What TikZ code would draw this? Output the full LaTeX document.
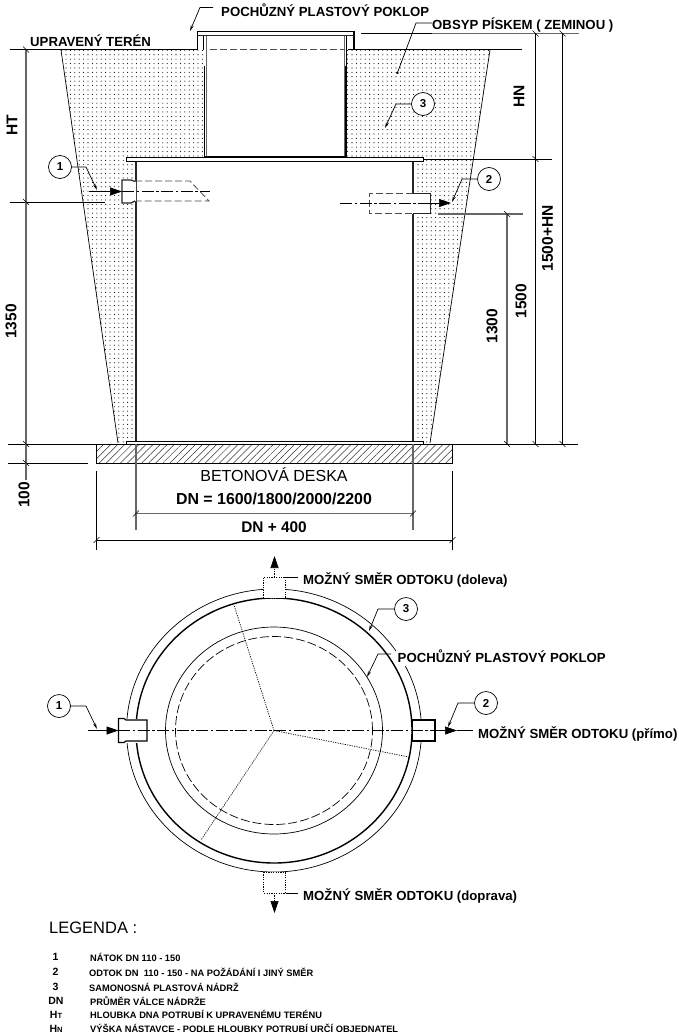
\documentclass[tikz,border=0pt]{standalone}
\usepackage{fontspec}
\setmainfont{Liberation Sans}
\usetikzlibrary{arrows.meta,patterns.meta}
\newcommand{\fsz}[1]{\fontsize{#1}{#1}\selectfont}
\tikzset{
  thin line/.style={line width=0.7pt,black},
  dimline/.style={line width=0.8pt,black},
  greydim/.style={line width=1.2pt,black!60},
  thickline/.style={line width=1.8pt,black},
  midline/.style={line width=1.2pt,black!85},
  hidden/.style={line width=0.8pt,black!70,dash pattern=on 7pt off 3pt},
  axisline/.style={line width=0.5pt,black,dash pattern=on 12pt off 2.5pt on 2.5pt off 2.5pt},
  spoke/.style={line width=0.7pt,black,dash pattern=on 1.2pt off 1.2pt},
  lab/.style={font=\bfseries\fsz{13.2},anchor=west,inner sep=0pt},
  dimtext/.style={font=\bfseries\fsz{15.5},rotate=90,inner sep=0pt},
  bubble/.style={circle,draw,line width=0.7pt,minimum size=23pt,inner sep=0pt,font=\bfseries\fsz{11.5},fill=white},
  leader/.style={line width=0.7pt,black,-{Stealth[length=6pt,width=3pt]}},
  flow/.style={line width=0.7pt,black,-{Triangle[length=12pt,width=8pt]}},
  legnum/.style={font=\bfseries\fsz{10.5},inner sep=0pt},
  legtext/.style={font=\bfseries\fsz{9.3},anchor=west,inner sep=0pt},
}
\newcommand{\tkb}[1]{\draw[dimline,line width=0.6pt] (#1) ++(-3,-3) -- ++(6,6);}
\newcommand{\tkf}[1]{\draw[dimline,line width=0.6pt] (#1) ++(-3,3) -- ++(6,-6);}
\begin{document}
\begin{tikzpicture}[x=1pt,y=-1pt]
\useasboundingbox (0,0) rectangle (679,1036);
\fill[white] (0,0) rectangle (679,1036);

%% ---------- section: soil ----------
\path[pattern={Dots[distance=4.4pt,radius=0.55pt]},pattern color=black]
  (61,50) -- (490,50) -- (430,443) -- (118,443) -- cycle;
\draw[thin line] (61,50) -- (118,443);
\draw[thin line] (490,50) -- (430,443);
% tank interior
\fill[white] (204,36) rectangle (347,157);
\fill[white] (136,161) rectangle (413,441);
\fill[white] (197,31) rectangle (354,49);
% base slab
\path[pattern={Lines[angle=45,distance=5pt,line width=0.5pt]},pattern color=black!80]
  (96.5,444) rectangle (452.5,463);
\draw[line width=0.8pt] (96.5,444) rectangle (452.5,463);
% tank walls
\draw[midline] (136,161) -- (136,441);
\draw[midline] (413,161) -- (413,441);
\fill[white] (126,157) rectangle (423,161);
\draw[line width=0.9pt] (126,157.5) rectangle (423,161.5);
\fill[white] (126,441) rectangle (423,444);
\draw[line width=0.9pt] (126,441) rectangle (423,444);
% neck
\draw[line width=1.1pt] (203.5,35) -- (203.5,50);
\draw[midline,black!60] (206.7,35) -- (206.7,157);
\draw[line width=1.4pt] (204.7,66) -- (204.7,157);
\draw[midline,black!60] (344.5,35) -- (344.5,157);
\draw[line width=1pt] (346.7,35) -- (346.7,157);
\draw[line width=1.4pt] (345.5,66) -- (345.5,157);
\draw[line width=1.5pt] (204,157) -- (347,157);
% lid
\draw[line width=1.3pt] (197.5,50) -- (197.5,31.5) -- (354,31.5) -- (354,50);
\draw[midline] (197.5,35.5) -- (354,35.5);
\draw[hidden] (210,49.5) -- (345,49.5);
% ground
\draw[thickline] (26,49.5) -- (197,49.5);
\draw[thickline] (348,49.5) -- (522,49.5);
\draw[dimline] (10,49.5) -- (26,49.5);

%% ---------- inlet / outlet in section ----------
\draw[hidden] (135,181) -- (190,181) -- (209,201) -- (136,201);
\fill[white] (122,180) -- (131,180) -- (136,182) -- (136,201) -- (131,203) -- (122,203) -- cycle;
\draw[midline,line width=1.2pt] (135,181.5) -- (131,180) -- (122,180) -- (122,203) -- (131,203) -- (135,201);
\draw[axisline] (122,191.5) -- (210,191.5);
\fill[white] (369,193.5) rectangle (413,213.5);
\draw[hidden] (413,193.5) -- (369,193.5) -- (369,213.5) -- (413,213.5);
\fill[white] (413,193.5) rectangle (430.5,213.5);
\draw[midline,line width=1.2pt] (413,193.5) -- (430.5,193.5) -- (430.5,213.5) -- (413,213.5);
\draw[axisline] (340,203) -- (430.5,203);

\coordinate (inA) at (122,191.5);
\coordinate (inB) at (89,191.5);
\draw[flow] (inB) -- (inA);
\coordinate (outA) at (430.5,203);
\coordinate (outB) at (451,203);
\draw[flow] (outA) -- (outB);

\node[bubble] (b1) at (60,167) {1};
\node[bubble] (b2) at (489,179) {2};
\node[bubble] (b3) at (423,104) {3};
\draw[leader] (b1.east) -- (86,167) -- (97,190);
\draw[leader] (b2.west) -- (462,179) -- (452,202);
\draw[leader] (b3.west) -- (396,104) -- (385,128);

%% ---------- section: labels ----------
\node[lab] (tpoklop) at (221,10) {POCHŮZNÝ PLASTOVÝ POKLOP};
\draw[leader] (tpoklop.west) ++(-8,-2.5) -- (200,7.5) -- (190,31);
\node[lab] (tobsyp) at (432,25.5) {OBSYP PÍSKEM ( ZEMINOU )};
\draw[line width=0.7pt,-{Circle[length=2.5pt]}] (tobsyp.west) ++(0,-2.5) -- (416,23) -- (397,74);
\node[lab] (tteren) at (30,41) {UPRAVENÝ TERÉN};

%% ---------- dimensions ----------
\draw[line width=1.2pt] (361,33.5) -- (432,33.5);
\draw[greydim] (432,33.5) -- (579,33.5);
\draw[dimline] (423,159) -- (552,159);
\draw[greydim] (438,214) -- (523,214);
\draw[dimline] (10,202) -- (105,202);
\draw[dimline] (8,444) -- (96.5,444);
\draw[dimline] (452.5,444) -- (578,444);
\draw[dimline] (8,463) -- (88,463);

\draw[greydim] (26,49.5) -- (26,480);
\draw[greydim] (507,214) -- (507,444);
\draw[dimline] (535.5,33.5) -- (535.5,444);
\draw[dimline] (562.5,33.5) -- (562.5,444);
\tkb{26,49.5}\tkb{26,202}\tkb{26,444}\tkb{26,463}
\tkb{507,214}\tkb{507,444}
\tkb{535.5,159}\tkb{535.5,33.5}\tkb{535.5,444}
\tkb{562.5,33.5}\tkb{562.5,444}

\node[dimtext] (dHT) at (12,125) {HT};
\node[dimtext] (d1350) at (11,321.5) {1350};
\node[dimtext] (d100) at (24,495) {100};
\node[dimtext] (dHN) at (519,96) {HN};
\node[dimtext] (d1500HN) at (547.5,238.5) {1500+HN};
\node[dimtext] (d1500) at (521,301) {1500};
\node[dimtext] (d1300) at (492,326) {1300};

\draw[greydim] (136,444) -- (136,530);
\draw[greydim] (413,444) -- (413,530);
\draw[dimline] (96.5,471) -- (96.5,550);
\draw[dimline] (452.5,471) -- (452.5,550);
\draw[greydim] (136,513.5) -- (413,513.5);
\draw[dimline] (96.5,540) -- (452.5,540);
\tkf{136,513.5}\tkf{413,513.5}\tkf{96.5,540}\tkf{452.5,540}

\node[font=\fsz{16},inner sep=0pt] (tdeska) at (274,475) {BETONOVÁ DESKA};
\node[font=\bfseries\fsz{15.9},inner sep=0pt] (tdn) at (274,499) {DN = 1600/1800/2000/2200};
\node[font=\bfseries\fsz{15.4},inner sep=0pt] (tdn400) at (274,527) {DN + 400};

%% ---------- plan ----------
\coordinate (c) at (274,730.5);
\draw[line width=0.7pt] (c) ellipse [x radius=147.5pt,y radius=141.5pt];
\draw[line width=1.4pt] (c) ellipse [x radius=138pt,y radius=132.5pt];
\draw[line width=0.7pt] (c) ellipse [x radius=108.5pt,y radius=103.5pt];
\draw[line width=0.7pt,dash pattern=on 9pt off 3pt] (c) ellipse [x radius=98.5pt,y radius=94pt];
\draw[spoke] (c) -- (234,605);
\draw[spoke] (c) -- (201,840);
\draw[spoke] (c) -- (409,757);

% possible outlets up and down
\fill[white] (263.5,577) rectangle (285.5,598);
\draw[spoke] (263.5,598) -- (263.5,577) -- (285.5,577) -- (285.5,598) -- cycle;
\fill[white] (263.5,872) rectangle (285.5,893);
\draw[spoke] (263.5,872) -- (263.5,893) -- (285.5,893) -- (285.5,872);
\draw[spoke] (263.5,872) -- (285.5,872);

\coordinate (upA) at (274.5,577);
\coordinate (upB) at (274.5,556);
\draw[spoke,-{Triangle[length=12pt,width=8pt]}] (upA) -- (upB);
\coordinate (dnA) at (274.5,893);
\coordinate (dnB) at (274.5,913);
\draw[spoke,-{Triangle[length=12pt,width=8pt]}] (dnA) -- (dnB);

% inlet / outlet
\fill[white] (118.5,718.5) rectangle (147,742.5);
\draw[line width=1.2pt] (147,720) -- (126,720) -- (124,718.5) -- (118.5,718.5) -- (118.5,742.5) -- (124,742.5) -- (126,741) -- (147,741) -- cycle;
\fill[white] (412.5,720) rectangle (435,741);
\draw[line width=1.2pt] (412.5,720) rectangle (435,741);
\draw[axisline] (118,730.5) -- (445,730.5);

\coordinate (pinA) at (88,730.5);
\coordinate (pinB) at (118.5,730.5);
\draw[flow] (pinA) -- (pinB);
\coordinate (poutA) at (435,730.5);
\coordinate (poutB) at (457,730.5);
\draw[flow] (poutA) -- (poutB);

\node[bubble] (p1) at (59,706) {1};
\node[bubble] (p2) at (486,703) {2};
\node[bubble] (p3) at (406,609) {3};
\draw[leader] (p1.east) -- (86,706) -- (97,729);
\draw[leader] (p2.west) -- (458,703) -- (448,727);
\draw[leader] (p3.west) -- (378,609) -- (369,631);

% plan labels
\node[lab,fill=white,inner xsep=1.5pt,inner ysep=3pt,anchor=west] (tp1) at (396,656.5) {POCHŮZNÝ PLASTOVÝ POKLOP};
\draw[leader] (tp1.west) ++(-5,-2.5) -- (378,654) -- (367,677);
\node[lab] (tprimo) at (478,733.5) {MOŽNÝ SMĚR ODTOKU (přímo)};
\node[lab] (tdoleva) at (303,579.5) {MOŽNÝ SMĚR ODTOKU (doleva)};
\node[lab] (tdoprava) at (303,896) {MOŽNÝ SMĚR ODTOKU (doprava)};
\draw[line width=0.7pt] (poutB) -- (473,730.5);
\draw[line width=0.7pt] (285.5,577) -- (298,577);
\draw[line width=0.7pt] (285.5,893) -- (298,893);

%% ---------- legend ----------
\node[font=\fsz{16.5},anchor=west,inner sep=0pt] (tleg) at (49,928) {LEGENDA :};
\node[legnum] (n1) at (55.5,957) {1};
\node[legnum] (n2) at (55.5,972) {2};
\node[legnum] (n3) at (55.5,986.5) {3};
\node[legnum] (n4) at (56,1000.5) {DN};
\node[legnum] (n5) at (56,1015) {H\fsz{7.5}T};
\node[legnum] (n6) at (56,1028.5) {H\fsz{7.5}N};
\node[legtext] (l1) at (90,957) {NÁTOK DN 110 - 150};
\node[legtext] (l2) at (89,972) {ODTOK DN\ \ 110 - 150 - NA POŽÁDÁNÍ I JINÝ SMĚR};
\node[legtext] (l3) at (89,987.5) {SAMONOSNÁ PLASTOVÁ NÁDRŽ};
\node[legtext] (l4) at (90,1001.5) {PRŮMĚR VÁLCE NÁDRŽE};
\node[legtext] (l5) at (90,1014) {HLOUBKA DNA POTRUBÍ K UPRAVENÉMU TERÉNU};
\node[legtext] (l6) at (90,1028) {VÝŠKA NÁSTAVCE - PODLE HLOUBKY POTRUBÍ URČÍ OBJEDNATEL};
\end{tikzpicture}
\end{document}
